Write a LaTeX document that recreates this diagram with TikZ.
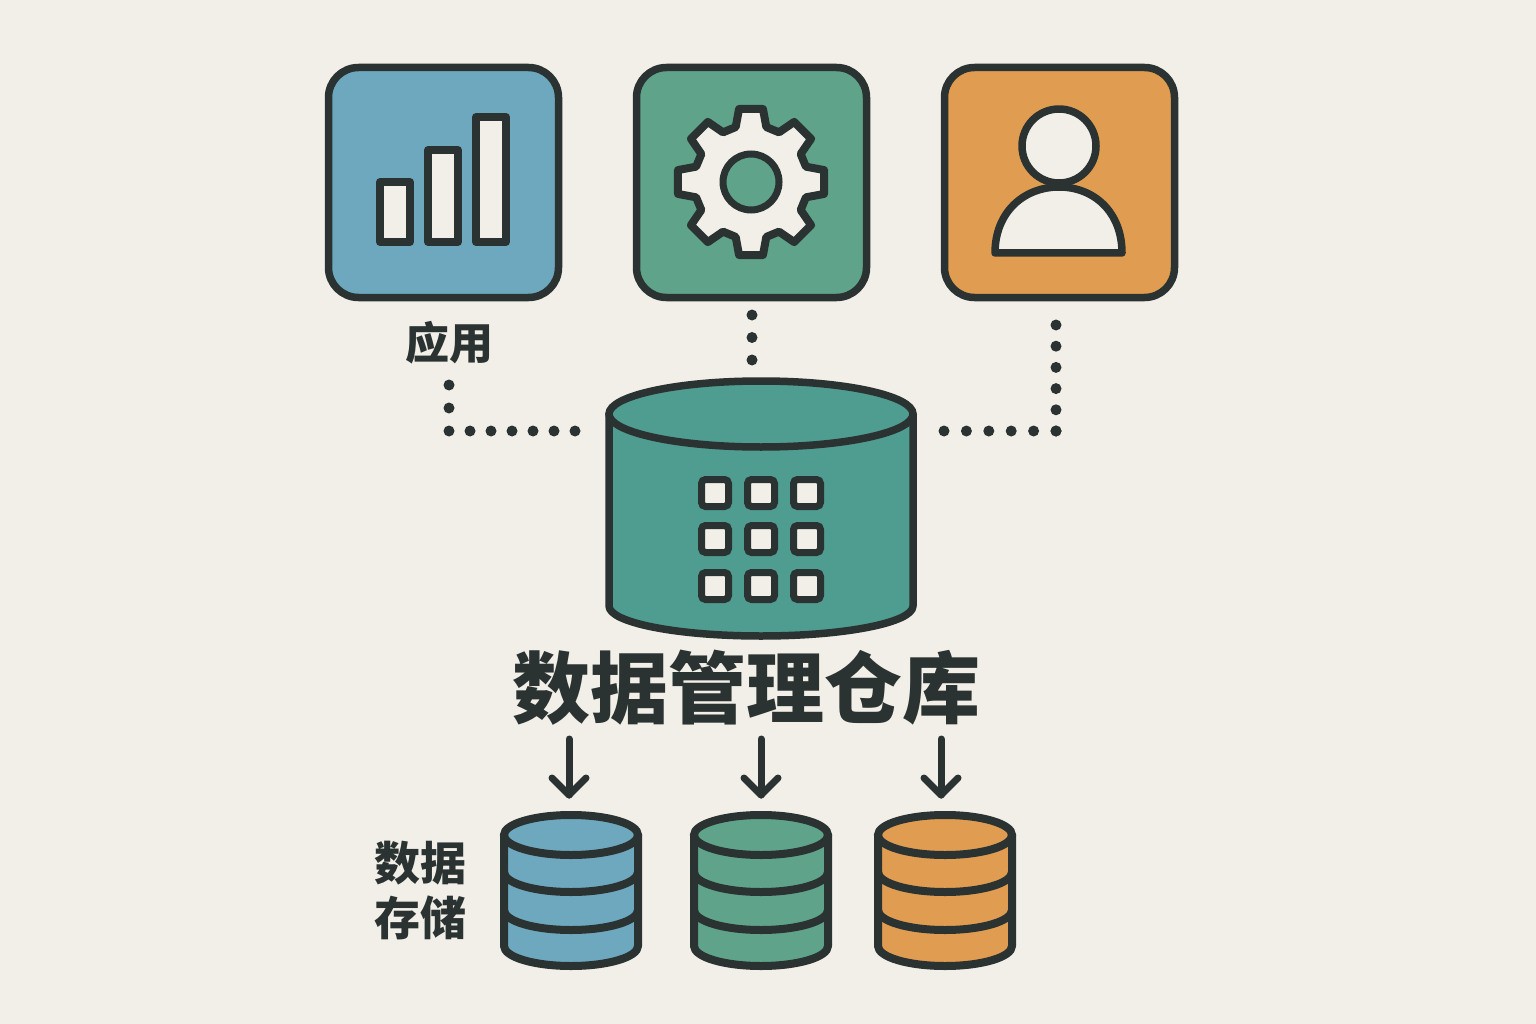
\documentclass[tikz,border=0pt]{standalone}
\usepackage{fontspec}
\usetikzlibrary{shapes.geometric}
\newfontfamily\cjk{Noto Sans CJK SC}
\definecolor{bgc}{HTML}{F2EFE8}
\definecolor{ink}{HTML}{2B3332}
\definecolor{cblue}{HTML}{6EA8BF}
\definecolor{cgreen}{HTML}{5FA48A}
\definecolor{corange}{HTML}{E09C50}
\definecolor{cteal}{HTML}{4F9C90}
\newcommand\smallcyl[2]{%
  \path[draw=ink,fill=#2,line width=8,line join=round]
    (#1-67,835) -- (#1-67,946) arc[start angle=180,end angle=0,x radius=67,y radius=20] -- (#1+67,835) -- cycle;
  \path[draw=ink,fill=#2,line width=8] (#1,835) ellipse[x radius=67,y radius=20];
  \draw[ink,line width=8] (#1-67,872) arc[start angle=180,end angle=0,x radius=67,y radius=20];
  \draw[ink,line width=8] (#1-67,910) arc[start angle=180,end angle=0,x radius=67,y radius=20];
}
\tikzset{
  iconbox/.style={draw=ink,line width=7.5,rounded corners=30,minimum width=230,minimum height=230,inner sep=0},
  pale/.style={draw=ink,fill=bgc,line width=7.5,line join=round},
  cell/.style={draw=ink,fill=bgc,line width=7,rounded corners=4,minimum width=27,minimum height=27,inner sep=0},
  dots/.style={draw=ink,line width=11,line cap=round},
  down/.style={draw=ink,line width=7,line cap=round,line join=round},
  lab/.style={text=ink,font=\cjk\bfseries,inner sep=0},
}
\begin{document}
\begin{tikzpicture}[x=1pt,y=-1pt]
\fill[bgc] (0,0) rectangle (1536,1024);
\useasboundingbox (0,0) rectangle (1536,1024);
% icon boxes
\node[iconbox,fill=cblue] (app) at (443.5,182.5) {};
\node[iconbox,fill=cgreen] (gear) at (751.5,182.5) {};
\node[iconbox,fill=corange] (user) at (1059.5,182.5) {};
% bars
\draw[pale] (380,182) rectangle (410,242);
\draw[pale] (428,150) rectangle (458,242);
\draw[pale] (476,117) rectangle (506,242);
% gear
\begin{scope}[shift={(751,182)}]
\draw[pale,line width=8] (-15.6:57) \foreach \a in {0,45,...,315} {
  -- ({\a-15.6}:57) -- ({\a-9.3}:74) -- ({\a+9.3}:74) -- ({\a+15.6}:57) } -- cycle;
\draw[ink,fill=cgreen,line width=7] (0,0) circle[radius=28];
\end{scope}
% person
\draw[pale] (995,253) .. controls (995,212) and (1024,187) .. (1059,187) .. controls (1094,187) and (1122,212) .. (1122,253) -- cycle;
\draw[pale] (1059,146) circle[radius=37];
% labels
\node[lab,font=\cjk\bfseries\fontsize{44}{48}\selectfont] (applab) at (449,343) {应用};
\node[lab,font=\cjk\bfseries\fontsize{78}{82}\selectfont] (title) at (746,688) {数据管理仓库};
\node[lab,font=\cjk\bfseries\fontsize{46}{50}\selectfont] (st1) at (420,863) {数据};
\node[lab,font=\cjk\bfseries\fontsize{46}{50}\selectfont] (st2) at (420,918) {存储};
% dotted connectors
\coordinate (l0) at (449,385);
\coordinate (lc) at (449,431);
\coordinate (l1) at (575,431);
\coordinate (m0) at (752,315);
\coordinate (m1) at (752,360);
\coordinate (r0) at (1056,325);
\coordinate (rc) at (1056,431);
\coordinate (r1) at (944,431);
\draw[dots,dash pattern=on 0pt off 23pt] (l0) -- (lc);
\draw[dots,dash pattern=on 0pt off 21pt] (lc) -- (l1);
\draw[dots,dash pattern=on 0pt off 22.5pt] (m0) -- (m1);
\draw[dots,dash pattern=on 0pt off 21.2pt] (r0) -- (rc);
\draw[dots,dash pattern=on 0pt off 22.4pt] (rc) -- (r1);
% main cylinder
\path[draw=ink,fill=cteal,line width=7.5,line join=round]
  (609,414) -- (609,606) arc[start angle=180,end angle=0,x radius=152,y radius=30] -- (913,414) -- cycle;
\node[draw=ink,fill=cteal,line width=7.5,ellipse,minimum width=304,minimum height=66,inner sep=0] (wh) at (761,414) {};
\foreach \y [count=\j] in {493,539,586}
  \foreach \x [count=\i] in {715,761,807}
    \node[cell] (c\j\i) at (\x,\y) {};
% small cylinders
\smallcyl{571}{cblue}
\smallcyl{761}{cgreen}
\smallcyl{945}{corange}
% arrows
\foreach \x [count=\i] in {569,761,941} {
  \coordinate (as\i) at (\x,739);
  \coordinate (ae\i) at (\x,795);
  \draw[down] (as\i) -- (ae\i);
  \draw[down] (\x-17,778) -- (ae\i) -- (\x+17,778);
}
\end{tikzpicture}
\end{document}
